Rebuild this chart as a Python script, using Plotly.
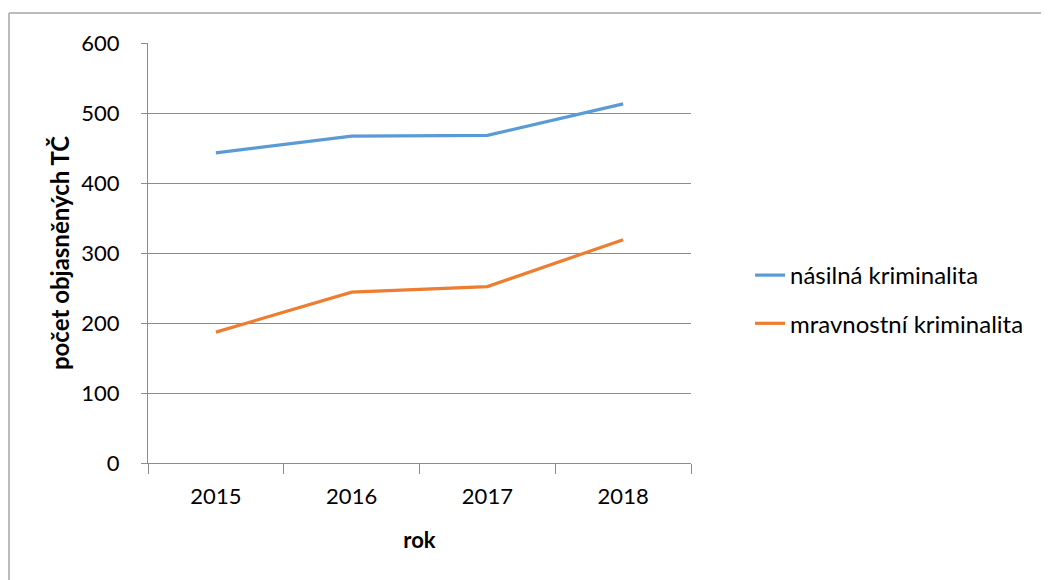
import plotly.graph_objects as go

years = ["2015", "2016", "2017", "2018"]
nasilna = [443, 467, 468, 513]
mravnostni = [187, 244, 252, 319]
series_names = ["násilná kriminalita", "mravnostní kriminalita"]
colors = ["#5B9BD5", "#ED7D31"]

FONT = "Lato"
OFF = 8  # page body offset
W, H = 1049, 580
L, R, T, B = 148 - OFF, 1049 - 691 + OFF, 43 - OFF, 580 - 463 + OFF
pw, ph = W - L - R, H - T - B


def px_x(x):
    return (x - OFF - L) / pw


def px_y(y):
    return 1 - (y - OFF - T) / ph


fig = go.Figure()
for i, (name, vals) in enumerate(zip(series_names, [nasilna, mravnostni])):
    fig.add_trace(go.Scatter(
        x=years, y=vals, mode="lines", name=name,
        line=dict(color=colors[i], width=3.2),
        legendgroup=f"g{i}",
    ))

grid = "#8C8C8C"
fig.update_layout(
    width=W, height=H,
    margin=dict(l=L, r=R, t=T, b=B),
    paper_bgcolor="white", plot_bgcolor="white",
    font=dict(family=FONT, size=22, color="black"),
    showlegend=True,
    legend=dict(
        x=px_x(750), y=px_y(253), xanchor="left", yanchor="top",
        font=dict(size=24, family=FONT, color="black"),
        tracegroupgap=14, traceorder="grouped",
        bgcolor="rgba(0,0,0,0)",
    ),
    xaxis=dict(
        type="category", tickson="boundaries",
        showline=True, linecolor=grid, linewidth=1,
        ticks="outside", ticklen=10, tickcolor=grid,
        showgrid=False, tickfont=dict(size=22),
        ticklabelstandoff=14,
        title=dict(text="<b>rok</b>", font=dict(size=22), standoff=24),
        range=[-0.5, 3.5],
    ),
    yaxis=dict(
        range=[0, 600], dtick=100, tick0=0,
        showline=True, linecolor=grid, linewidth=1,
        ticks="outside", ticklen=6, tickcolor=grid,
        showgrid=True, gridcolor=grid, gridwidth=1,
        zeroline=False, tickfont=dict(size=22),
        ticklabelstandoff=17,
        title=dict(text="<b>počet objasněných TČ</b>", font=dict(size=24), standoff=4),
    ),
    shapes=[
        dict(type="line", xref="paper", yref="paper",
             x0=px_x(9), x1=px_x(1070),
             y0=px_y(13), y1=px_y(13),
             line=dict(color="#A6A6A6", width=1.5)),
        dict(type="line", xref="paper", yref="paper",
             x0=px_x(9), x1=px_x(9),
             y0=px_y(13), y1=px_y(600),
             line=dict(color="#A6A6A6", width=1.5)),
    ],
)

fig.write_html("out.html")
